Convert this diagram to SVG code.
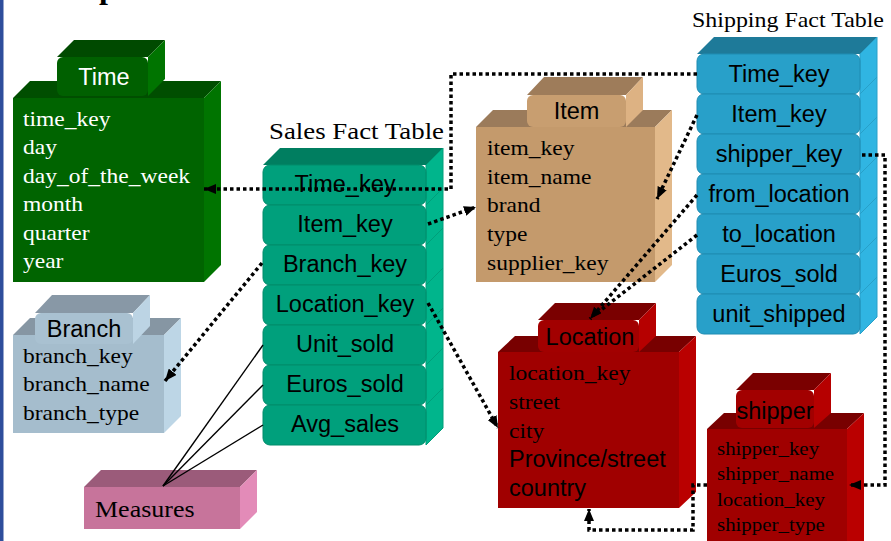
<svg xmlns="http://www.w3.org/2000/svg" width="891" height="541" viewBox="0 0 891 541">
  <defs>
    <style>
      .sans { font-family: "Liberation Sans", Arial, sans-serif; font-size: 23.5px; }
      .serif { font-family: "Liberation Serif", "Times New Roman", serif; font-size: 21px; }
      .mid { text-anchor: middle; }
      .dot { fill: none; stroke: #000; stroke-width: 3.5; stroke-dasharray: 3.5 3; }
      .solid { fill: none; stroke: #000; stroke-width: 1.4; }
      .sf-front { fill: #00A07C; stroke: #008C6B; stroke-width: 1; }
      .sf-side { fill: #00B58C; stroke: #009E7A; stroke-width: 1; }
      .sh-front { fill: #28A0C9; stroke: #1E8CB2; stroke-width: 1; }
      .sh-side { fill: #30B5E2; stroke: #28A0C9; stroke-width: 1; }
    </style>
    <marker id="arrow" viewBox="0 0 12 10" refX="12" refY="5" markerWidth="12" markerHeight="10" markerUnits="userSpaceOnUse" orient="auto">
      <path d="M0,0 L12,5 L0,10 z" fill="#000"/>
    </marker>
  </defs>

  <rect width="891" height="541" fill="#fff"/>
  <!-- slide edge bar -->
  <rect x="0" y="0" width="3.5" height="541" fill="#2E4E9C"/>
  <!-- bottom of the page heading, cut by the frame -->
  <text x="99" y="-2" font-family="Liberation Serif, serif" font-weight="bold" font-size="32">p</text>

  <!-- Time dimension -->
  <g id="time">
    <polygon fill="#004E00" points="13,98 30,81 221,81 204,98"/>
    <polygon fill="#007400" points="204,98 221,81 221,265 204,282"/>
    <rect x="13" y="98" width="191" height="184" fill="#006400"/>
    <polygon fill="#004A00" points="57,57 74,40 165,40 148,57"/>
    <polygon fill="#007400" points="148,57 165,40 165,79 148,96"/>
    <rect x="57" y="57" width="91" height="39" rx="6" fill="#006000"/>
    <text class="sans mid" x="104" y="85" fill="#fff">Time</text>
    <g class="serif" fill="#fff" transform="translate(23 0) scale(1.12 1)">
      <text x="0" y="126">time_key</text>
      <text x="0" y="154.4">day</text>
      <text x="0" y="182.8">day_of_the_week</text>
      <text x="0" y="211.2">month</text>
      <text x="0" y="239.6">quarter</text>
      <text x="0" y="268">year</text>
    </g>
  </g>

  <!-- Sales fact table -->
  <g id="sales-fact">
    <text class="serif" x="269" y="139" style="font-size:23.5px" textLength="175" lengthAdjust="spacingAndGlyphs">Sales Fact Table</text>
    <polygon fill="#007E60" points="263,165 280,148 443,148 426,165"/>
    <polygon class="sf-side" points="426,165 443,148 443,188 426,205"/>
    <rect class="sf-front" x="263" y="165" width="163" height="40" rx="7"/>
    <polygon class="sf-side" points="426,205 443,188 443,228 426,245"/>
    <rect class="sf-front" x="263" y="205" width="163" height="40" rx="7"/>
    <polygon class="sf-side" points="426,245 443,228 443,268 426,285"/>
    <rect class="sf-front" x="263" y="245" width="163" height="40" rx="7"/>
    <polygon class="sf-side" points="426,285 443,268 443,308 426,325"/>
    <rect class="sf-front" x="263" y="285" width="163" height="40" rx="7"/>
    <polygon class="sf-side" points="426,325 443,308 443,348 426,365"/>
    <rect class="sf-front" x="263" y="325" width="163" height="40" rx="7"/>
    <polygon class="sf-side" points="426,365 443,348 443,388 426,405"/>
    <rect class="sf-front" x="263" y="365" width="163" height="40" rx="7"/>
    <polygon class="sf-side" points="426,405 443,388 443,428 426,445"/>
    <rect class="sf-front" x="263" y="405" width="163" height="40" rx="7"/>
    <g class="sans mid" fill="#000">
      <text x="345" y="192">Time_key</text>
      <text x="345" y="232">Item_key</text>
      <text x="345" y="272">Branch_key</text>
      <text x="345" y="312">Location_key</text>
      <text x="345" y="352">Unit_sold</text>
      <text x="345" y="392">Euros_sold</text>
      <text x="345" y="432">Avg_sales</text>
    </g>
  </g>

  <!-- Item dimension -->
  <g id="item">
    <polygon fill="#9B7B5B" points="476,127 493,110 672,110 655,127"/>
    <polygon fill="#E2B98A" points="655,127 672,110 672,265 655,282"/>
    <rect x="476" y="127" width="179" height="155" fill="#C49A6C"/>
    <polygon fill="#9E7C5A" points="527,95 544,77 643,77 626,95"/>
    <polygon fill="#DDB283" points="626,95 643,77 643,110 626,127"/>
    <rect x="527" y="95" width="99" height="32" rx="6" fill="#C89E70"/>
    <text class="sans mid" x="576.5" y="119" fill="#000">Item</text>
    <g class="serif" fill="#000" transform="translate(487 0) scale(1.12 1)">
      <text x="0" y="155">item_key</text>
      <text x="0" y="183.75">item_name</text>
      <text x="0" y="212.5">brand</text>
      <text x="0" y="241.25">type</text>
      <text x="0" y="270">supplier_key</text>
    </g>
  </g>

  <!-- Shipping fact table -->
  <g id="shipping-fact">
    <text class="serif" x="692" y="27" textLength="192" lengthAdjust="spacingAndGlyphs">Shipping Fact Table</text>
    <polygon fill="#1E7A99" points="697,54 714,37 877,37 860,54"/>
    <polygon class="sh-side" points="860,54 877,37 877,77 860,94"/>
    <rect class="sh-front" x="697" y="54" width="163" height="40" rx="7"/>
    <polygon class="sh-side" points="860,94 877,77 877,117 860,134"/>
    <rect class="sh-front" x="697" y="94" width="163" height="40" rx="7"/>
    <polygon class="sh-side" points="860,134 877,117 877,157 860,174"/>
    <rect class="sh-front" x="697" y="134" width="163" height="40" rx="7"/>
    <polygon class="sh-side" points="860,174 877,157 877,197 860,214"/>
    <rect class="sh-front" x="697" y="174" width="163" height="40" rx="7"/>
    <polygon class="sh-side" points="860,214 877,197 877,237 860,254"/>
    <rect class="sh-front" x="697" y="214" width="163" height="40" rx="7"/>
    <polygon class="sh-side" points="860,254 877,237 877,277 860,294"/>
    <rect class="sh-front" x="697" y="254" width="163" height="40" rx="7"/>
    <polygon class="sh-side" points="860,294 877,277 877,317 860,334"/>
    <rect class="sh-front" x="697" y="294" width="163" height="40" rx="7"/>
    <g class="sans mid" fill="#000">
      <text x="779" y="82">Time_key</text>
      <text x="779" y="122">Item_key</text>
      <text x="779" y="162">shipper_key</text>
      <text x="779" y="202">from_location</text>
      <text x="779" y="242">to_location</text>
      <text x="779" y="282">Euros_sold</text>
      <text x="779" y="322">unit_shipped</text>
    </g>
  </g>

  <!-- Branch dimension -->
  <g id="branch">
    <polygon fill="#8696A3" points="13,335 30,318 181,318 164,335"/>
    <polygon fill="#BDD6E6" points="164,335 181,318 181,416 164,433"/>
    <rect x="13" y="335" width="151" height="98" fill="#A5BDCD"/>
    <polygon fill="#8898A6" points="35,313 52,295 150,295 133,313"/>
    <polygon fill="#BCD4E4" points="133,313 150,295 150,326 133,344"/>
    <rect x="35" y="313" width="98" height="31" rx="6" fill="#A9C1D1"/>
    <text class="sans mid" x="84" y="337" fill="#000">Branch</text>
    <g class="serif" fill="#000" transform="translate(23 0) scale(1.12 1)">
      <text x="0" y="363">branch_key</text>
      <text x="0" y="391.5">branch_name</text>
      <text x="0" y="420">branch_type</text>
    </g>
  </g>

  <!-- Measures box -->
  <g id="measures">
    <polygon fill="#9B5B7A" points="84,487 101,470 257,470 240,487"/>
    <polygon fill="#E38BB8" points="240,487 257,470 257,512 240,529"/>
    <rect x="84" y="487" width="156" height="42" fill="#C7749B"/>
    <g transform="translate(95 0) scale(1.13 1)">
      <text class="serif" x="0" y="517" style="font-size:23px" fill="#000">Measures</text>
    </g>
  </g>

  <!-- Location dimension -->
  <g id="location">
    <polygon fill="#780000" points="498,352 515,336 696,336 679,352"/>
    <polygon fill="#BA0000" points="679,352 696,336 696,492 679,508"/>
    <rect x="498" y="352" width="181" height="156" fill="#A00000"/>
    <polygon fill="#7A0000" points="538,320 555,303 656,303 639,320"/>
    <polygon fill="#B60000" points="639,320 656,303 656,336 639,352"/>
    <rect x="538" y="320" width="101" height="32" rx="6" fill="#A20000"/>
    <text class="sans mid" x="590" y="345" fill="#000">Location</text>
    <g class="serif" fill="#000" transform="translate(509 0) scale(1.12 1)">
      <text x="0" y="380">location_key</text>
      <text x="0" y="409">street</text>
      <text x="0" y="438">city</text>
    </g>
    <text class="sans" x="509" y="467" fill="#000">Province/street</text>
    <text class="sans" x="509" y="496" fill="#000">country</text>
  </g>

  <!-- shipper dimension -->
  <g id="shipper">
    <polygon fill="#780000" points="707,429 724,413 864,413 847,429"/>
    <polygon fill="#BA0000" points="847,429 864,413 864,541 847,541"/>
    <rect x="707" y="429" width="140" height="120" fill="#A00000"/>
    <polygon fill="#7A0000" points="736,390 753,373 831,373 814,390"/>
    <polygon fill="#B60000" points="814,390 831,373 831,413 814,428"/>
    <rect x="736" y="390" width="78" height="38" rx="6" fill="#A20000"/>
    <text class="sans mid" x="775" y="419" fill="#000">shipper</text>
    <g fill="#000" font-family="Liberation Serif, Times New Roman, serif" transform="translate(717 0) scale(1.13 1)">
      <text x="0" y="455" font-size="18.5">shipper_key</text>
      <text x="0" y="480.3" font-size="18.5">shipper_name</text>
      <text x="0" y="505.6" font-size="18.5">location_key</text>
      <text x="0" y="531" font-size="18.5">shipper_type</text>
    </g>
  </g>

  <!-- connectors -->
  <g id="connectors">
    <path class="solid" d="M163,486 L263,345"/>
    <path class="solid" d="M163,486 L263,385"/>
    <path class="solid" d="M163,486 L263,425"/>
    <path class="dot" d="M697,74 H451 V189 H204" marker-end="url(#arrow)"/>
    <path class="dot" d="M428,224 L476,207" marker-end="url(#arrow)"/>
    <path class="dot" d="M262,263 L165,381" marker-end="url(#arrow)"/>
    <path class="dot" d="M428,303 L498,428" marker-end="url(#arrow)"/>
    <path class="dot" d="M697,115 L657,199" marker-end="url(#arrow)"/>
    <path class="dot" d="M697,235 L596,314"/>
    <path class="dot" d="M697,195 L590,319" marker-end="url(#arrow)"/>
    <path class="dot" d="M862,155 H885 V485 H849" marker-end="url(#arrow)"/>
    <path class="dot" d="M707,485 H693 V530 H589 V509" marker-end="url(#arrow)"/>
  </g>
</svg>
